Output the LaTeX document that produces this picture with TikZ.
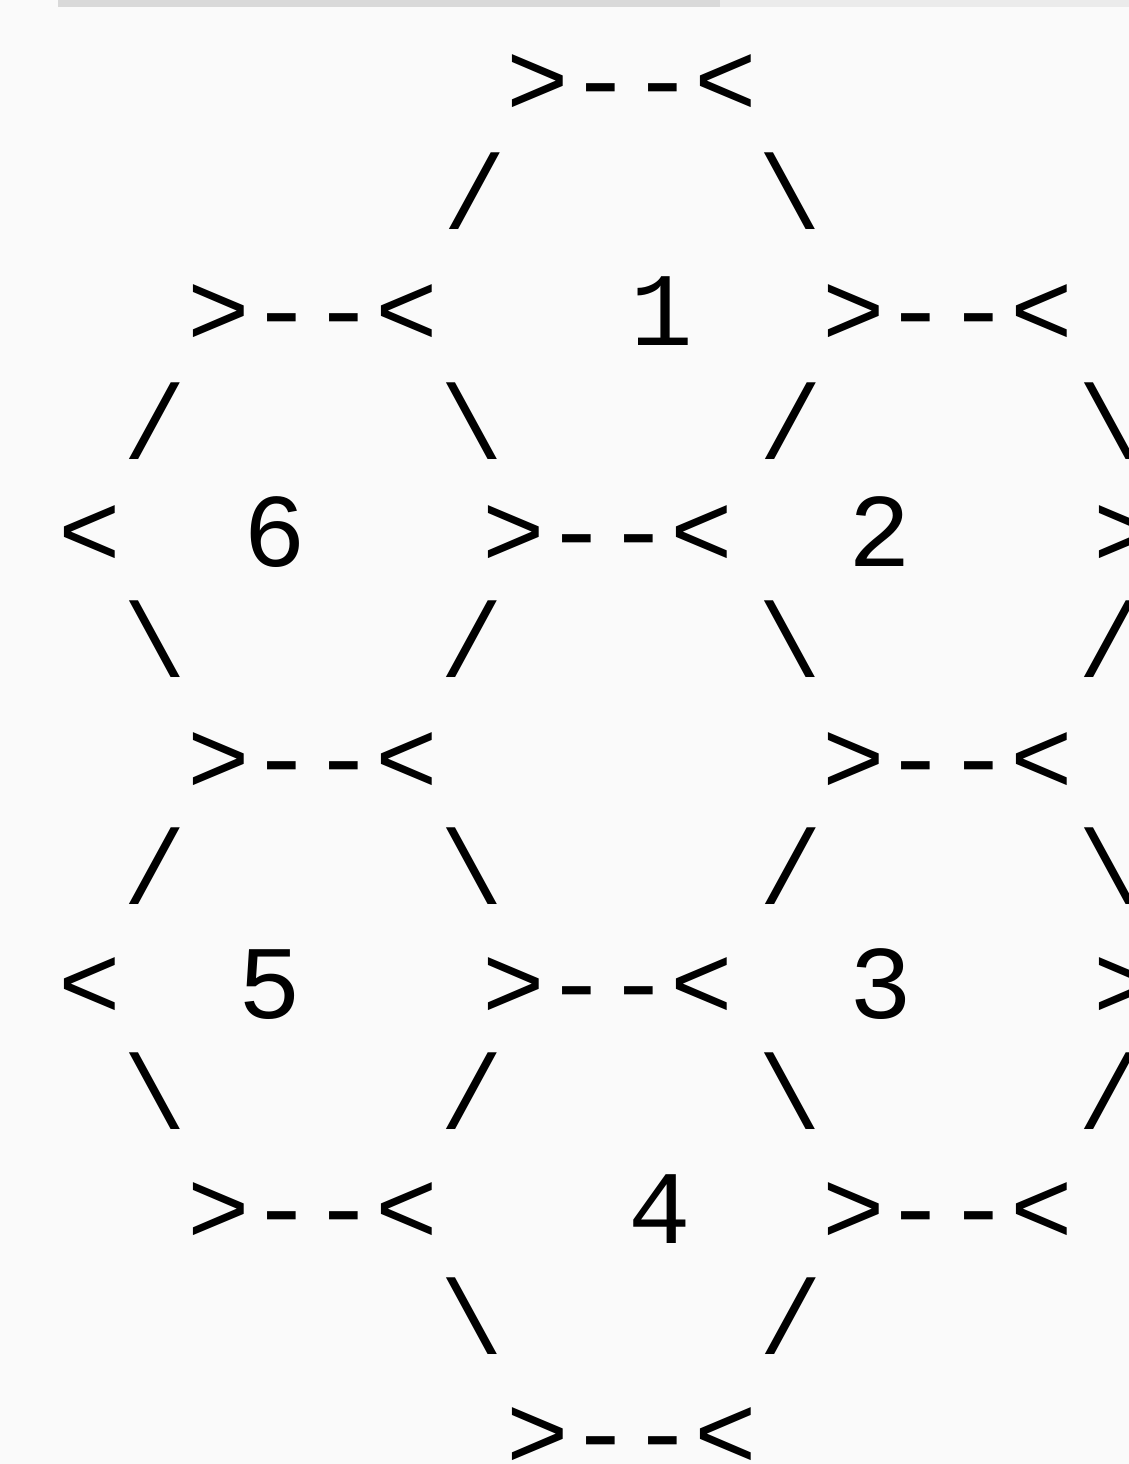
\documentclass[tikz,border=0pt]{standalone}
\usepackage{fontspec}
\setmonofont{Liberation Mono}
\usetikzlibrary{positioning}

\begin{document}
\begin{tikzpicture}[
    x=0.5pt, y=-0.5pt,
    glyph/.style={font=\ttfamily\fontsize{52.25pt}{56pt}\selectfont, inner sep=0pt, anchor=base},
    band/.style={draw=none, fill=black!15}
]
\useasboundingbox (0,0) rectangle (1129,1464);
\clip (0,0) rectangle (1129,1464);
\fill[black!2] (0,0) rectangle (1129,1464);
\fill[band] (58,0) rectangle (720,7);
\fill[band, fill=black!8] (720,0) rectangle (1129,7);

% row 1 / 2
\node[glyph] (e1) at (632,115) {>--<};
\node[glyph] (s2l) at (475,228) {/};
\node[glyph] (s2r) at (790,228) {\textbackslash};

% row 3 / 4
\node[glyph] (e3l) at (313,345) {>--<};
\node[glyph] (n1) at (662,345) {1};
\node[glyph] (e3r) at (947.5,345) {>--<};
\node[glyph] (s4a) at (155,458) {/};
\node[glyph] (s4b) at (472,458) {\textbackslash};
\node[glyph] (s4c) at (791,458) {/};
\node[glyph] (s4d) at (1110,458) {\textbackslash};

% row 5 / 6
\node[glyph] (v5l) at (90,566) {<};
\node[glyph] (n6) at (275,566) {6};
\node[glyph] (e5) at (608,566) {>--<};
\node[glyph] (n2) at (880,566) {2};
\node[glyph] (v5r) at (1125,566) {>};
\node[glyph] (s6a) at (155,676) {\textbackslash};
\node[glyph] (s6b) at (472,676) {/};
\node[glyph] (s6c) at (790,676) {\textbackslash};
\node[glyph] (s6d) at (1110,676) {/};

% row 7 / 8
\node[glyph] (e7l) at (313,793) {>--<};
\node[glyph] (e7r) at (947.5,793) {>--<};
\node[glyph] (s8a) at (155,903) {/};
\node[glyph] (s8b) at (472,903) {\textbackslash};
\node[glyph] (s8c) at (791,903) {/};
\node[glyph] (s8d) at (1110,903) {\textbackslash};

% row 9 / 10
\node[glyph] (v9l) at (90,1018) {<};
\node[glyph] (n5) at (270,1018) {5};
\node[glyph] (e9) at (608,1018) {>--<};
\node[glyph] (n3) at (881,1018) {3};
\node[glyph] (v9r) at (1125,1018) {>};
\node[glyph] (s10a) at (155,1128) {\textbackslash};
\node[glyph] (s10b) at (472,1128) {/};
\node[glyph] (s10c) at (790,1128) {\textbackslash};
\node[glyph] (s10d) at (1110,1128) {/};

% row 11 / 12 / 13
\node[glyph] (e11l) at (313,1243) {>--<};
\node[glyph] (n4) at (660,1243) {4};
\node[glyph] (e11r) at (947.5,1243) {>--<};
\node[glyph] (s12a) at (472,1353) {\textbackslash};
\node[glyph] (s12b) at (791,1353) {/};
\node[glyph] (e13) at (632,1468) {>--<};

\end{tikzpicture}
\end{document}
